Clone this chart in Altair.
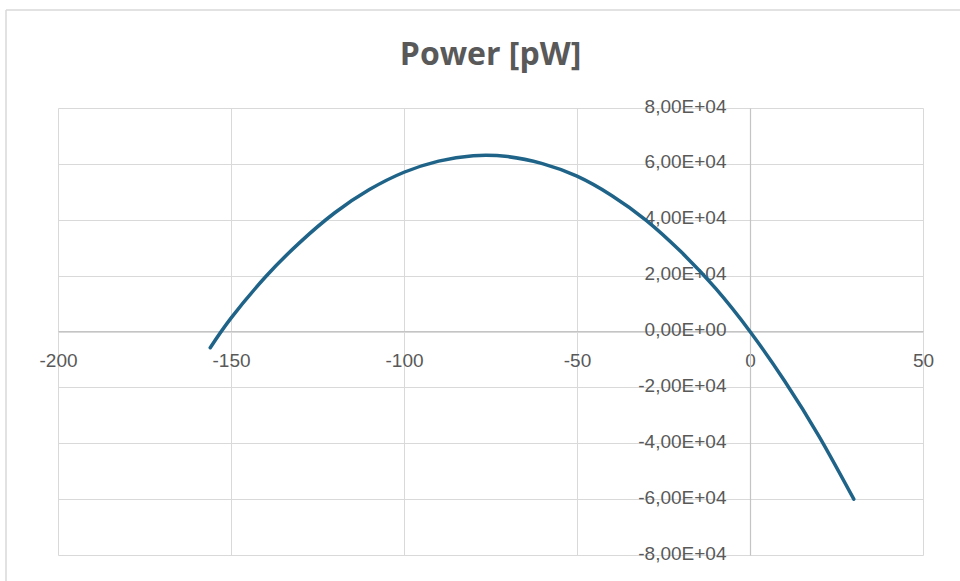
import altair as alt
import pandas as pd

# Data
voltage = [-156, -150, -140, -130, -120, -110, -100, -90, -80, -70, -60,
           -50, -40, -30, -20, -10, 0, 10, 20, 30]
power = [-5800, 4800, 19600, 32000, 42500, 50800, 57000, 61000, 62900, 62600,
         60100, 55600, 48700, 39800, 28600, 15500, 0, -17700, -37600, -60000]

x_ticks = [-200, -150, -100, -50, 0, 50]
y_ticks = [-80000, -60000, -40000, -20000, 0, 20000, 40000, 60000, 80000]

df = pd.DataFrame({"V": voltage, "P": power})

W, H = 865, 447
PAD_L, PAD_T, PAD_R, PAD_B = 58, 108, 37, 26

label_color = "#595959"
grid_color = "#d9d9d9"
axis_color = "#c4c4c4"

exp_expr = "floor(log(abs(datum.value))/LN10 + 1e-9)"
y_label_expr = (
    "datum.value == 0 ? '0,00E+00' : "
    "(datum.value < 0 ? '-' : '') + "
    f"replace(format(abs(datum.value) / pow(10, {exp_expr}), '.2f'), '.', ',') + "
    f"'E+' + ({exp_expr} < 10 ? '0' : '') + {exp_expr}"
)

# offsets that put each axis line through the other axis' zero
x_scale = alt.Scale(domain=[-200, 50], nice=False, zero=False)
y_scale = alt.Scale(domain=[-80000, 80000], nice=False)
x_offset = -round(H * (0 - (-80000)) / 160000)   # move x axis up to y = 0
y_offset = -round(W * (0 - (-200)) / 250)        # move y axis right to x = 0

line = alt.Chart(df).mark_line(
    color="#1f6488", strokeWidth=3.5, interpolate="natural", strokeCap="round"
).encode(
    x=alt.X("V:Q", scale=x_scale, title=None,
            axis=alt.Axis(values=x_ticks, offset=x_offset, grid=True,
                          gridColor=grid_color, gridWidth=1,
                          domainColor=axis_color, domainWidth=1.2,
                          ticks=False, tickSize=0, labelPadding=20,
                          labelFlush=False, labelOverlap=False,
                          labelExpr="'' + datum.value",
                          labelColor=label_color, labelFontSize=19,
                          labelFont="Liberation Sans")),
    y=alt.Y("P:Q", scale=y_scale, title=None,
            axis=alt.Axis(values=y_ticks, offset=y_offset, grid=True,
                          gridColor=grid_color, gridWidth=1,
                          domainColor=axis_color, domainWidth=1.2,
                          ticks=False, tickSize=0, labelPadding=24,
                          labelOffset=-2,
                          labelFlush=False, labelOverlap=False,
                          labelExpr=y_label_expr,
                          labelColor=label_color, labelFontSize=19,
                          labelFont="Liberation Sans")),
)

# outer chart-area frame (decorative)
frame_left = alt.Chart(pd.DataFrame({"a": [0]})).mark_rule(
    color="#d9d9d9", strokeWidth=1.5
).encode(x=alt.value(-52), y=alt.value(-98), y2=alt.value(H + PAD_B))
frame_top = alt.Chart(pd.DataFrame({"a": [0]})).mark_rule(
    color="#d9d9d9", strokeWidth=1.5
).encode(x=alt.value(-52), x2=alt.value(W + PAD_R), y=alt.value(-98))

chart = alt.layer(frame_left, frame_top, line).properties(
    width=W, height=H,
    title=alt.TitleParams("Power [pW]", font="Open Sans", fontSize=32,
                          fontWeight="bold", color=label_color,
                          anchor="middle", offset=-63),
    autosize=alt.AutoSizeParams(type="none"),
    padding={"left": PAD_L, "top": PAD_T, "right": PAD_R, "bottom": PAD_B},
    background="white",
).configure_view(stroke=None)

chart.save("out.html", embed_options={"renderer": "svg", "actions": False})
